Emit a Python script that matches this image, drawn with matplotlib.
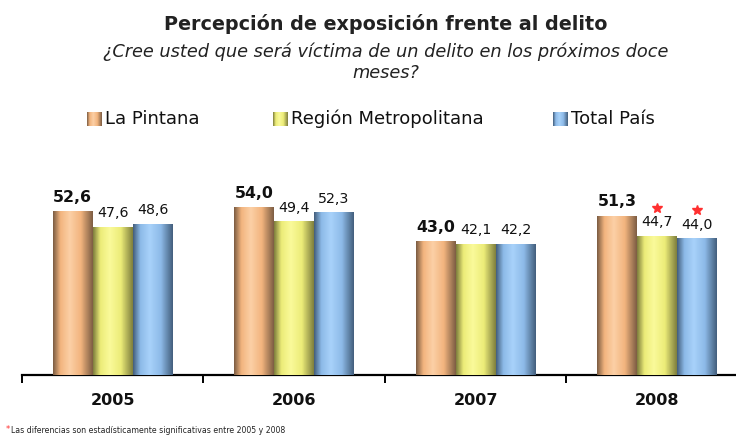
import numpy as np
import matplotlib
matplotlib.use("Agg")
import matplotlib.pyplot as plt
from matplotlib.colors import LinearSegmentedColormap

plt.rcParams['font.family'] = ['DejaVu Sans']

# datos
years = ["2005", "2006", "2007", "2008"]
series_names = ["La Pintana", "Región Metropolitana", "Total País"]
la_pintana = [52.6, 54.0, 43.0, 51.3]
region_metro = [47.6, 49.4, 42.1, 44.7]
total_pais = [48.6, 52.3, 42.2, 44.0]
significant = [[False, False, False, False],
               [False, False, False, True],
               [False, False, False, True]]

values = [la_pintana, region_metro, total_pais]
base_colors = ["#F2B47E", "#ECEC78", "#8DBAE8"]
light_colors = ["#FCD0A6", "#FAFA9A", "#A8D2FA"]
dark_colors = ["#7E5E44", "#80803E", "#44607E"]

W, H = 736, 437
fig = plt.figure(figsize=(W / 100, H / 100), dpi=100)
ax = fig.add_axes([22 / W, 62 / H, 714 / W, 225 / H])

grad = np.linspace(0, 1, 64).reshape(1, -1)
cmaps = []
for i in range(3):
    cmaps.append(LinearSegmentedColormap.from_list(
        "g%d" % i,
        [(0.0, dark_colors[i]), (0.18, base_colors[i]), (0.42, light_colors[i]),
         (0.7, base_colors[i]), (1.0, dark_colors[i])]))

width = 0.22
x = np.arange(len(years))
offsets = [-width, 0, width]

for i, vals in enumerate(values):
    bars = ax.bar(x + offsets[i], vals, width, color=base_colors[i], zorder=2)
    for b in bars:
        x0 = b.get_x()
        ax.imshow(grad, extent=[x0, x0 + b.get_width(), 0, b.get_height()],
                  aspect="auto", cmap=cmaps[i], zorder=3)
    for j, v in enumerate(vals):
        label = ("%.1f" % v).replace(".", ",")
        if i == 0:
            ax.text(x[j] + offsets[i], v + 2.3, label, ha="center", va="bottom",
                    fontsize=11.3, fontweight="bold", color="#111111")
        else:
            ax.text(x[j] + offsets[i], v + 2.3, label, ha="center", va="bottom",
                    fontsize=10.2, color="#111111")
        if significant[i][j]:
            ax.plot(x[j] + offsets[i], v + 9.2, marker="*", markersize=7,
                    color="#FF3030", linestyle="none", clip_on=False)

ax.set_xlim(-0.5, 3.435)
ax.set_ylim(0, 72.6)

# ejes
for s in ["top", "right", "left"]:
    ax.spines[s].set_visible(False)
ax.spines["bottom"].set_linewidth(1.6)
ax.set_yticks([])
ax.set_xticks(x)
ax.set_xticklabels(years, fontsize=11.5, fontweight="bold", color="#111111")
ax.tick_params(axis="x", which="major", length=0, pad=13)
ax.set_xticks(np.arange(-0.5, 3.5, 1.0), minor=True)
ax.tick_params(axis="x", which="minor", length=6, width=1.4, direction="out")

# títulos
cx = 386 / W
fig.text(cx, 1 - 30 / H, "Percepción de exposición frente al delito", ha="center",
         va="baseline", fontsize=13.8, fontweight="bold", color="#222222")
fig.text(cx, 1 - 57 / H, "¿Cree usted que será víctima de un delito en los próximos doce",
         ha="center", va="baseline", fontsize=12.8, style="italic", color="#222222")
fig.text(cx, 1 - 78 / H, "meses?", ha="center", va="baseline", fontsize=12.8,
         style="italic", color="#222222")

# leyenda
leg_x = [87, 273, 553]
for k in range(3):
    lax = fig.add_axes([leg_x[k] / W, (H - 126) / H, 15 / W, 14 / H])
    lax.imshow(grad, aspect="auto", cmap=cmaps[k], extent=[0, 1, 0, 1])
    lax.axis("off")
    fig.text((leg_x[k] + 18) / W, 1 - 119 / H, series_names[k], ha="left",
             va="center", fontsize=13, color="#111111")

# nota
fig.text(6 / W, 3 / H, "*", ha="left", va="bottom", fontsize=6, color="#FF3030")
fig.text(11 / W, 2 / H, "Las diferencias son estadísticamente significativas entre 2005 y 2008",
         ha="left", va="bottom", fontsize=5.6, color="#222222")

fig.savefig("out.png", dpi=100)
